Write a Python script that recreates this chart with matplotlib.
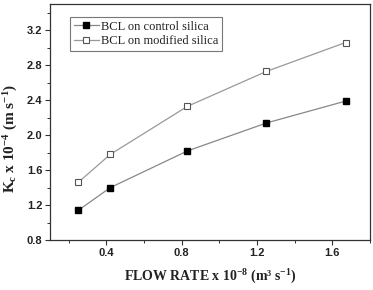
import numpy as np
import matplotlib
matplotlib.use("Agg")
import matplotlib.pyplot as plt
from matplotlib.ticker import MultipleLocator

# data
flow = [0.25, 0.42, 0.83, 1.25, 1.67]
kc_control = [1.14, 1.40, 1.82, 2.14, 2.39]
kc_modified = [1.46, 1.78, 2.33, 2.73, 3.06]
labels = ["BCL on control silica", "BCL on modified silica"]

plt.rcParams['mathtext.fontset'] = 'custom'
plt.rcParams['mathtext.rm'] = 'Liberation Serif:bold'
plt.rcParams['mathtext.bf'] = 'Liberation Serif:bold'
plt.rcParams['mathtext.it'] = 'Liberation Serif:bold:italic'

fig = plt.figure(figsize=(3.73, 2.90), dpi=100)
ax = fig.add_axes([0.134, 0.172, 0.858, 0.814])

ax.plot(flow, kc_control, color='#888888', lw=0.9, marker='s', ms=4.2,
        mfc='black', mec='black', label=labels[0])
ax.plot(flow, kc_modified, color='#999999', lw=0.9, marker='s', ms=4.5,
        mfc='white', mec='#555555', mew=0.8, label=labels[1])

ax.set_xlim(0.1, 1.8)
ax.set_ylim(0.8, 3.5)
ax.xaxis.set_minor_locator(MultipleLocator(0.2))
ax.yaxis.set_minor_locator(MultipleLocator(0.2))
ax.set_xticks([0.4, 0.8, 1.2, 1.6])
ax.set_yticks([0.8, 1.2, 1.6, 2.0, 2.4, 2.8, 3.2])

for s in ax.spines.values():
    s.set_color('#333333')
    s.set_linewidth(0.9)
ax.tick_params(which='major', direction='out', length=3.5, width=0.8,
               color='#333333', labelsize=8, pad=2)
ax.tick_params(which='minor', direction='out', length=2, width=0.7, color='#333333')
for lab in ax.get_xticklabels() + ax.get_yticklabels():
    lab.set_fontfamily('Liberation Sans')
    lab.set_fontweight('bold')
    lab.set_color('#222222')

ax.set_xlabel(r'FLOW RATE x 10$^\mathregular{-8}$ (m³ s$^\mathregular{-1}$)',
              fontfamily='Liberation Serif', fontweight='bold', fontsize=10,
              color='#222222', labelpad=7)
ax.set_ylabel(r'K$_\mathregular{c}$ x 10$^\mathregular{-4}$ (m s$^\mathregular{-1}$)',
              fontfamily='Liberation Serif', fontweight='bold', fontsize=11,
              color='#222222')
ax.yaxis.set_label_coords(-0.094, 0.43)

leg = ax.legend(loc='upper left', bbox_to_anchor=(0.0625, 0.945), fancybox=False,
                prop={'family': 'Liberation Serif', 'size': 9}, handlelength=2.0,
                handletextpad=0.2, borderpad=0.3, labelspacing=0.2,
                borderaxespad=0)
leg.get_frame().set_edgecolor('#555555')
leg.get_frame().set_linewidth(0.8)
for t in leg.get_texts():
    t.set_color('#222222')

fig.savefig('out.png', dpi=100)
